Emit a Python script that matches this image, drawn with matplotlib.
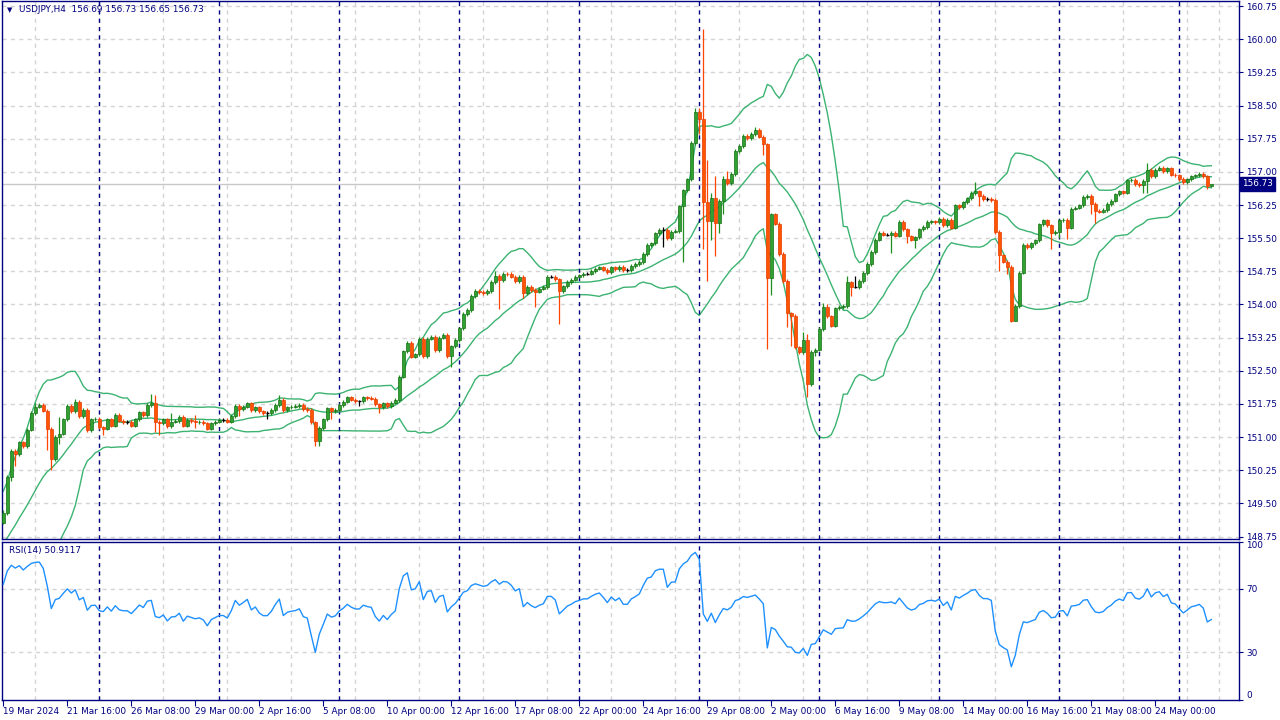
import numpy as np
import matplotlib.pyplot as plt

plt.rcParams['font.family'] = ['DejaVu Sans']

# USDJPY H4, 19 Mar 2024 00:00 onwards (one close per bar, open = previous close)
first_open = 149.05
close = [
    149.28, 150.10, 150.68, 150.62, 150.88, 150.79, 151.17, 151.54, 151.69, 151.73,
    151.60, 151.19, 150.50, 151.00, 151.08, 151.40, 151.71, 151.58, 151.80, 151.47,
    151.61, 151.15, 151.40, 151.42, 151.22, 151.19, 151.40, 151.26, 151.50, 151.37,
    151.34, 151.34, 151.26, 151.40, 151.56, 151.50, 151.73, 151.76, 151.35, 151.32,
    151.40, 151.24, 151.35, 151.36, 151.45, 151.26, 151.39, 151.36, 151.33, 151.35,
    151.31, 151.19, 151.31, 151.35, 151.39, 151.39, 151.35, 151.48, 151.70, 151.63,
    151.69, 151.76, 151.61, 151.67, 151.58, 151.54, 151.54, 151.61, 151.73, 151.84,
    151.61, 151.67, 151.69, 151.70, 151.73, 151.63, 151.61, 151.33, 150.90, 151.20,
    151.40, 151.65, 151.58, 151.61, 151.73, 151.80, 151.90, 151.85, 151.82, 151.82,
    151.90, 151.88, 151.87, 151.74, 151.67, 151.76, 151.70, 151.78, 151.84, 152.37,
    152.94, 153.13, 152.82, 152.87, 153.23, 152.83, 153.23, 153.27, 152.97, 153.25,
    153.31, 152.83, 153.05, 153.20, 153.46, 153.78, 153.87, 154.19, 154.31, 154.28,
    154.25, 154.30, 154.51, 154.64, 154.55, 154.70, 154.69, 154.63, 154.53, 154.62,
    154.26, 154.40, 154.33, 154.29, 154.36, 154.40, 154.63, 154.63, 154.57, 154.31,
    154.41, 154.51, 154.56, 154.63, 154.66, 154.70, 154.70, 154.76, 154.81, 154.84,
    154.79, 154.73, 154.84, 154.80, 154.85, 154.78, 154.78, 154.87, 154.91, 154.96,
    155.14, 155.34, 155.38, 155.61, 155.68, 155.68, 155.50, 155.65, 155.66, 156.22,
    156.58, 156.83, 157.65, 158.35, 158.20, 156.32, 155.89, 156.41, 155.84, 156.35,
    156.83, 156.75, 156.95, 157.47, 157.58, 157.81, 157.77, 157.86, 157.95, 157.80,
    157.62, 154.59, 156.04, 155.83, 155.14, 154.53, 153.80, 153.74, 153.03, 152.92,
    153.20, 152.20, 152.92, 152.98, 153.44, 153.95, 153.73, 153.52, 153.91, 153.94,
    153.96, 154.50, 154.40, 154.40, 154.53, 154.71, 154.91, 155.19, 155.47, 155.62,
    155.58, 155.58, 155.62, 155.56, 155.86, 155.70, 155.54, 155.47, 155.52, 155.70,
    155.75, 155.86, 155.88, 155.86, 155.94, 155.80, 155.92, 155.74, 156.24, 156.20,
    156.31, 156.40, 156.52, 156.56, 156.45, 156.39, 156.39, 156.36, 155.64, 155.11,
    154.97, 154.85, 153.63, 153.97, 154.72, 155.34, 155.30, 155.38, 155.45, 155.81,
    155.90, 155.79, 155.61, 155.64, 155.90, 155.92, 155.74, 156.17, 156.19, 156.24,
    156.43, 156.46, 156.27, 156.12, 156.10, 156.14, 156.27, 156.35, 156.49, 156.56,
    156.53, 156.81, 156.82, 156.72, 156.70, 156.79, 157.05, 156.91, 157.05, 157.09,
    157.01, 157.08, 156.94, 156.92, 156.84, 156.77, 156.83, 156.90, 156.92, 156.95,
    156.90, 156.69, 156.73,
]

# bars with long wicks: bar index -> high / low
highs = {0: 149.35, 8: 151.78, 14: 151.45, 18: 151.86, 37: 151.97, 38: 151.95,
         42: 151.54, 48: 151.50, 69: 151.95, 89: 151.85, 123: 154.76, 165: 155.76,
         173: 158.44, 174: 158.45, 175: 160.23, 176: 157.28, 177: 156.53, 178: 156.90,
         180: 156.90, 181: 157.02, 188: 158.02, 200: 153.37, 201: 153.33, 205: 154.03,
         206: 154.00, 211: 154.65, 213: 154.65, 243: 156.77, 286: 157.20, 302: 156.73}
lows = {0: 149.03, 2: 150.00, 3: 150.34, 11: 150.70, 12: 150.26, 14: 150.85,
        25: 151.05, 38: 151.11, 39: 151.05, 48: 151.20, 59: 151.48, 66: 151.42,
        78: 150.80, 79: 150.80, 82: 151.40, 89: 151.70, 94: 151.54, 112: 152.59,
        124: 153.89, 130: 154.14, 133: 153.95, 139: 153.56, 165: 155.29, 170: 154.96,
        174: 157.85, 175: 155.25, 176: 154.53, 177: 155.46, 178: 155.10, 179: 155.62,
        180: 156.04, 190: 157.39, 191: 152.99, 192: 154.21, 196: 153.48, 197: 153.07,
        201: 151.90, 203: 152.84, 212: 154.20, 213: 154.38, 222: 155.17, 226: 155.40,
        228: 155.28, 244: 156.22, 249: 154.76, 251: 154.68, 252: 153.60, 253: 153.62,
        262: 155.26, 264: 155.51, 266: 155.49, 272: 156.04, 273: 155.85, 285: 156.53,
        286: 156.53, 301: 156.62, 302: 156.65}

# closes before the first visible bar, only used to warm up BB(20) and RSI(14)
warmup = [147.60, 147.75, 147.55, 147.80, 147.65, 147.70,
          147.72, 147.80, 147.65, 147.90, 148.15, 148.30,
          148.35, 148.50, 148.65, 148.90, 149.05, 149.00,
          149.15, 149.10, 149.25, 149.30, 149.20, 149.05]

tick_bars = list(range(0, 289, 16))
tick_text = ['19 Mar 2024', '21 Mar 16:00', '26 Mar 08:00', '29 Mar 00:00', '2 Apr 16:00',
             '5 Apr 08:00', '10 Apr 00:00', '12 Apr 16:00', '17 Apr 08:00', '22 Apr 00:00',
             '24 Apr 16:00', '29 Apr 08:00', '2 May 00:00', '6 May 16:00', '9 May 08:00',
             '14 May 00:00', '16 May 16:00', '21 May 08:00', '24 May 00:00']
week_starts = [24, 54, 84, 114, 144, 174, 204, 234, 264, 294]
price_ticks = np.arange(148.75, 160.76, 0.75)
last_price = 156.73

NAVY = '#000080'
GRID = '#d4d4d4'
FS = 6.4

c = np.array(close)
o = np.r_[first_open, c[:-1]]
n = len(c)
x = np.arange(n)
hi = np.maximum(o, c) + 0.04
lo = np.minimum(o, c) - 0.04
for i, v in highs.items():
    hi[i] = v
for i, v in lows.items():
    lo[i] = v

# indicators
full = np.r_[warmup, c]
nw = len(warmup)
mid = np.array([full[i - 19:i + 1].mean() for i in range(nw, len(full))])
sd = np.array([full[i - 19:i + 1].std() for i in range(nw, len(full))])
upper, lower = mid + 2 * sd, mid - 2 * sd

d = np.diff(full)
up, dn = np.clip(d, 0, None), np.clip(-d, 0, None)
ag, al = up[:14].mean(), dn[:14].mean()
rsi_full = np.full(len(full), np.nan)
rsi_full[14] = 100 - 100 / (1 + ag / al)
for i in range(14, len(d)):
    ag = (ag * 13 + up[i]) / 14
    al = (al * 13 + dn[i]) / 14
    rsi_full[i + 1] = 100 - 100 / (1 + ag / al)
rsi = rsi_full[nw:]

fig = plt.figure(figsize=(12.8, 7.2), dpi=100)
L, W = 2 / 1280, (1239 - 2) / 1280
ax = fig.add_axes([L, 1 - 539 / 720, W, 538 / 720])
axr = fig.add_axes([L, 1 - 699.5 / 720, W, 158 / 720], sharex=ax)

xlim = ((2 - 3.3) / 4, (1239 - 3.3) / 4)

for a in (ax, axr):
    a.set_axisbelow(True)
    a.set_xticks(np.arange(0, 309, 8), minor=True)
    a.grid(True, which='minor', axis='x', color=GRID, ls=(0, (3, 3)), lw=1)
    for w in week_starts:
        a.axvline(w, color=NAVY, ls=(0, (3, 3)), lw=1, zorder=2.6)
    for s in a.spines.values():
        s.set_color(NAVY)
        s.set_linewidth(1)
    a.yaxis.tick_right()
    a.tick_params(axis='y', which='both', colors=NAVY, labelcolor=NAVY,
                  labelsize=FS, length=3, pad=2)

# price panel
for p in price_ticks:
    ax.axhline(p, color=GRID, ls=(0, (3, 3)), lw=1, zorder=0)
ax.axhline(last_price, color='#c8c8c8', lw=1, zorder=1)

bull = c > o + 0.004
bear = c < o - 0.004
doji = ~(bull | bear)
wick_col = np.where(bull, '#1f8f1f', np.where(bear, '#ff4500', 'black'))
ax.vlines(x, lo, hi, colors=wick_col, lw=0.9, zorder=3)
ax.bar(x[bull], (c - o)[bull], bottom=o[bull], width=0.72,
       color='#30a030', edgecolor='#177017', lw=0.5, zorder=4)
ax.bar(x[bear], (o - c)[bear], bottom=c[bear], width=0.72,
       color='#ff5500', edgecolor='#e53a00', lw=0.5, zorder=4)
ax.hlines(c[doji], x[doji] - 0.4, x[doji] + 0.4, colors='black', lw=1, zorder=4)

ax.plot(x, upper, color='#3cb371', lw=1, zorder=2)
ax.plot(x, mid, color='#3cb371', lw=1, zorder=2)
ax.plot(x, lower, color='#3cb371', lw=1, zorder=2)

ax.set_ylim(148.694, 160.866)
ax.set_yticks(price_ticks)
ax.set_yticklabels(['%.2f' % p for p in price_ticks])
ax.tick_params(axis='x', which='both', length=0, labelbottom=False)
ax.set_xlim(*xlim)

ax.text(1.0025, last_price, '%.2f' % last_price, transform=ax.get_yaxis_transform(),
        ha='left', va='center', color='white', fontsize=FS, zorder=10,
        bbox=dict(boxstyle='square,pad=0.25', fc=NAVY, ec=NAVY))

fig.text(7 / 1280, 1 - 10 / 720, '\u25bc', color=NAVY, fontsize=5, va='center', ha='left')
fig.text(19 / 1280, 1 - 10 / 720, 'USDJPY,H4  156.69 156.73 156.65 156.73',
         color=NAVY, fontsize=FS, va='center', ha='left')

# RSI panel
for lvl in (30, 70):
    axr.axhline(lvl, color=GRID, ls=(0, (3, 3)), lw=1, zorder=0)
axr.plot(x, rsi, color='#1e90ff', lw=1, zorder=3)
axr.set_ylim(0, 100)
axr.set_yticks([0, 30, 70, 100])
axr.set_yticklabels(['0', '30', '70', '100'])
ylabs = axr.get_yticklabels()
ylabs[0].set_va('bottom')
ylabs[-1].set_va('top')
axr.text(7 / 1237, 0.94, 'RSI(14) 50.9117', transform=axr.transAxes,
         color=NAVY, fontsize=FS, va='center', ha='left')

axr.set_xticks(tick_bars)
axr.set_xticklabels(tick_text)
axr.tick_params(axis='x', which='major', colors=NAVY, labelcolor=NAVY,
                labelsize=FS, length=4, pad=1.5)
axr.tick_params(axis='x', which='minor', length=0)
for lab in axr.get_xticklabels():
    lab.set_ha('left')
axr.set_xlim(*xlim)

fig.savefig('out.png', dpi=100, facecolor='white')
